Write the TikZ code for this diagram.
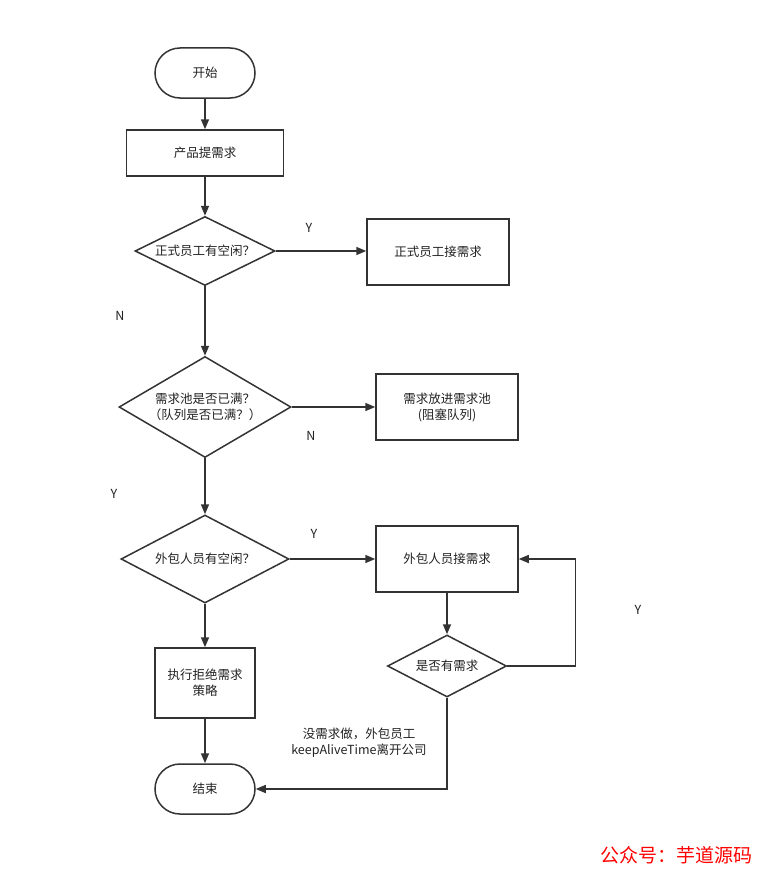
\documentclass[tikz,border=0pt]{standalone}
\usepackage{fontspec}
\setmainfont{Noto Sans CJK SC}
\usepackage{xcolor}
\usetikzlibrary{shapes.geometric,arrows.meta,positioning,calc}
\definecolor{linegray}{HTML}{333333}
\definecolor{textgray}{HTML}{222222}
\tikzset{
  terminal/.style={draw=linegray,line width=1.5pt,rectangle,rounded corners=25pt,minimum width=100pt,minimum height=50pt,inner sep=0pt,align=center},
  procbox/.style={draw=linegray,line width=1.5pt,rectangle,inner sep=0pt,align=center},
  decision/.style={draw=linegray,line width=1.5pt,diamond,inner sep=0pt,align=center},
  flow/.style={draw=linegray,line width=1.5pt,-{Triangle[length=10pt,width=8pt]}},
  yn/.style={text=textgray,font=\fontsize{12.5}{14}\selectfont},
}
\begin{document}
\begin{tikzpicture}[x=1pt,y=1pt,font=\fontsize{12.5}{16}\selectfont,text=textgray]
    \useasboundingbox (0,0) rectangle (766,-875);
    % main column
    \node[terminal] (start) at (205,-73) {开始};
    \node[procbox,minimum width=157pt,minimum height=46pt] (req) at (205,-153) {产品提需求};
    \node[decision,aspect=2.03,minimum width=140pt,minimum height=69pt] (staff) at (205,-251) {正式员工有空闲？};
    \node[decision,aspect=1.7,minimum width=172pt,minimum height=101pt] (pool) at (205,-407) {需求池是否已满？\\（队列是否已满？）};
    \node[decision,aspect=1.91,minimum width=168pt,minimum height=88pt] (outs) at (205,-559) {外包人员有空闲？};
    \node[procbox,minimum width=100pt,minimum height=70pt] (reject) at (205,-683) {执行拒绝需求\\策略};
    \node[terminal] (stop) at (205,-789) {结束};
    % right column
    \node[procbox,minimum width=142pt,minimum height=66pt] (staffdo) at (438,-252) {正式员工接需求};
    \node[procbox,minimum width=142pt,minimum height=66pt] (queue) at (447,-407) {需求放进需求池\\(阻塞队列)};
    \node[procbox,minimum width=142pt,minimum height=66pt] (outsdo) at (447,-559) {外包人员接需求};
    \node[decision,aspect=1.92,minimum width=119pt,minimum height=62pt] (more) at (447,-666) {是否有需求};

    \draw[flow] (start) -- (req);
    \draw[flow] (req) -- (staff);
    \draw[flow] (staff.east) -- (staffdo.west |- staff.east);
    \draw[flow] (staff) -- (pool);
    \draw[flow] (pool.east) -- (queue.west);
    \draw[flow] (pool) -- (outs);
    \draw[flow] (outs.east) -- (outsdo.west);
    \draw[flow] (outs) -- (reject);
    \draw[flow] (reject) -- (stop);
    \draw[flow] (outsdo) -- (more);
    \draw[flow] (more.east) -- ++(68,0) |- (outsdo.east);
    \draw[flow] (more.south) |- (stop.east);

    % labels
    \node[yn] (y1) at (309,-228) {Y};
    \node[yn] (n1) at (120,-316) {N};
    \node[yn] (n2) at (311,-436) {N};
    \node[yn] (y2) at (114,-494) {Y};
    \node[yn] (y3) at (314,-534) {Y};
    \node[yn] (y4) at (638,-610) {Y};
    \node[align=center] (leave) at (359,-743) {没需求做，外包员工\\keepAliveTime离开公司};
    \node[text=red,font=\fontsize{19}{22}\selectfont] (mark) at (676,-855) {公众号：芋道源码};
\end{tikzpicture}
\end{document}
